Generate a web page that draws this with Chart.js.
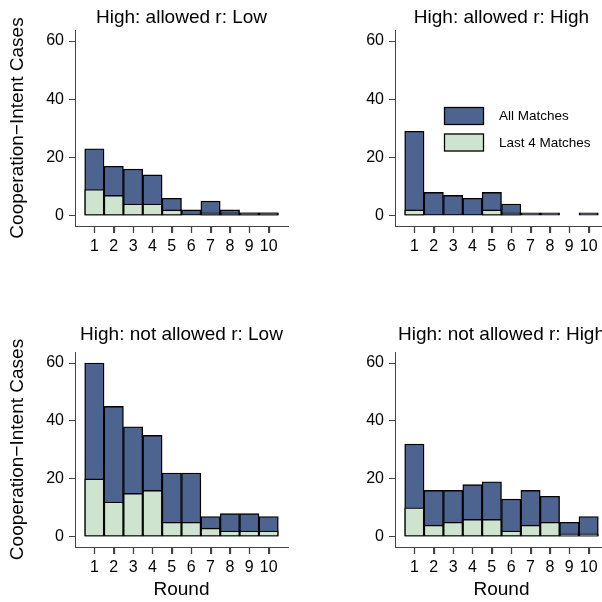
<!DOCTYPE html>
<html>
<head>
<meta charset="utf-8">
<script src="https://cdn.jsdelivr.net/npm/chart.js@4/dist/chart.umd.min.js"></script>
<style>
  html, body { margin: 0; padding: 0; background: #fff; overflow: hidden; width: 602px; height: 602px; }
  canvas { position: absolute; }
</style>
</head>
<body>
<canvas id="c1" width="320" height="260" style="left:0px;top:0px;width:320px;height:260px"></canvas>
<canvas id="c2" width="320" height="260" style="left:320px;top:0px;width:320px;height:260px"></canvas>
<canvas id="c3" width="320" height="302" style="left:0px;top:300px;width:320px;height:302px"></canvas>
<canvas id="c4" width="320" height="302" style="left:320px;top:300px;width:320px;height:302px"></canvas>
<script>
// ---- data ----
const rounds = [1, 2, 3, 4, 5, 6, 7, 8, 9, 10];
const seriesNames = ['All Matches', 'Last 4 Matches'];
const panelTitles = ['High: allowed r: Low', 'High: allowed r: High', 'High: not allowed r: Low', 'High: not allowed r: High'];
const yTickValues = [0, 20, 40, 60];
const yAxisTitle = 'Cooperation\u2212Intent Cases';
const xAxisTitle = 'Round';

const allAllowedLow     = [23, 17, 16, 14, 6, 2, 5, 2, 1, 1];
const last4AllowedLow   = [9, 7, 4, 4, 2, 0, 1, 1, 1, 1];
const allAllowedHigh    = [29, 8, 7, 6, 8, 4, 1, 1, 0, 1];
const last4AllowedHigh  = [2, 0, 0, 0, 2, 1, 0, 0, 0, 0];
const allNotAllowedLow  = [60, 45, 38, 35, 22, 22, 7, 8, 8, 7];
const last4NotAllowedLow= [20, 12, 15, 16, 5, 5, 3, 2, 2, 2];
const allNotAllowedHigh = [32, 16, 16, 18, 19, 13, 16, 14, 5, 7];
const last4NotAllowedHigh=[10, 4, 5, 6, 6, 2, 4, 5, 1, 1];

// ---- styles ----
const FONT = '"Liberation Sans", Arial, Helvetica, sans-serif';
const BLUE = '#4e6490';
const GREEN = '#cfe4cf';
const AXIS = '#444444';

Chart.defaults.font.family = FONT;
Chart.defaults.color = '#000';

function toPoints(vals) {
  return vals.map((v, i) => ({ x: rounds[i], y: v === 0 ? null : v }));
}

const yTitlePlugin = {
  id: 'yTitleText',
  afterDraw(chart, args, opts) {
    if (!opts || !opts.text) return;
    const ctx = chart.ctx, a = chart.chartArea;
    ctx.save();
    ctx.translate(opts.x, (a.top + a.bottom) / 2);
    ctx.rotate(-Math.PI / 2);
    ctx.font = opts.size + 'px ' + FONT;
    ctx.fillStyle = '#000';
    ctx.textAlign = 'center';
    ctx.textBaseline = 'middle';
    ctx.fillText(opts.text, 0, 0);
    ctx.restore();
  }
};

// short tick marks under the x axis at each round, positioned by the x scale
const xTickMarksPlugin = {
  id: 'xTickMarks',
  afterDraw(chart, args, opts) {
    const sx = chart.scales.x, ctx = chart.ctx;
    const y0 = Math.round(chart.chartArea.bottom);
    ctx.save();
    ctx.strokeStyle = AXIS;
    ctx.lineWidth = 1.3;
    rounds.forEach(v => {
      const px = Math.round(sx.getPixelForValue(v)) + 0.5;
      ctx.beginPath();
      ctx.moveTo(px, y0);
      ctx.lineTo(px, y0 + (opts.len || 7));
      ctx.stroke();
    });
    ctx.restore();
  }
};

const boxLegendPlugin = {
  id: 'boxLegend',
  afterDraw(chart, args, opts) {
    if (!opts || !opts.show) return;
    const ctx = chart.ctx;
    ctx.save();
    const items = [
      { label: seriesNames[0], color: BLUE, y: opts.y },
      { label: seriesNames[1], color: GREEN, y: opts.y + opts.gap }
    ];
    items.forEach(it => {
      ctx.fillStyle = it.color;
      ctx.fillRect(opts.x, it.y, opts.w, opts.h);
      ctx.strokeStyle = '#000';
      ctx.lineWidth = 1.3;
      ctx.strokeRect(opts.x + 0.5, it.y + 0.5, opts.w - 1, opts.h - 1);
      ctx.fillStyle = '#000';
      ctx.font = opts.size + 'px ' + FONT;
      ctx.textAlign = 'left';
      ctx.textBaseline = 'middle';
      ctx.fillText(it.label, opts.x + opts.w + opts.textGap, it.y + opts.h / 2 + 0.5);
    });
    ctx.restore();
  }
};

function makePanel(id, title, allVals, lastVals, cfg) {
  const isBottom = cfg.bottom;
  return new Chart(document.getElementById(id), {
    type: 'bar',
    data: {
      datasets: [
        { label: seriesNames[1], data: toPoints(lastVals), backgroundColor: GREEN,
          borderColor: '#000', borderWidth: 1.4, borderSkipped: false },
        { label: seriesNames[0], data: toPoints(allVals), backgroundColor: BLUE,
          borderColor: '#000', borderWidth: 1.4, borderSkipped: false }
      ]
    },
    options: {
      responsive: false,
      animation: false,
      devicePixelRatio: 1,
      layout: { padding: { left: 0, right: 32, top: 0, bottom: 0 } },
      datasets: { bar: { grouped: false, barPercentage: 1, categoryPercentage: 1 } },
      plugins: {
        legend: { display: false },
        tooltip: { enabled: false },
        title: {
          display: true, text: title, fullSize: false,
          font: { size: 19, weight: 'normal', lineHeight: 1.2 },
          color: '#000',
          padding: isBottom ? { top: 23.6, bottom: 5.6 } : { top: 6.6, bottom: 0.6 }
        },
        yTitleText: cfg.yTitle ? { text: yAxisTitle, x: 18, size: 19 } : {},
        xTickMarks: { len: 7 },
        boxLegend: cfg.legend ? { show: true, x: 124, y: 107, w: 40, h: 18, gap: 26.5, textGap: 15, size: 13.5 } : {}
      },
      scales: {
        x: {
          type: 'linear', min: 0, max: 11, offset: false,
          afterBuildTicks: s => { s.ticks = rounds.map(v => ({ value: v })); },
          afterFit: s => { s.height = isBottom ? 55 : 34; },
          grid: { display: true, offset: false, drawOnChartArea: false, drawTicks: true, tickLength: 7,
                  color: AXIS, tickColor: AXIS, lineWidth: 1, tickWidth: 1 },
          border: { display: true, color: AXIS, width: 1 },
          ticks: { autoSkip: false, maxRotation: 0, padding: 4, font: { size: 16 }, color: '#000',
                   callback: v => String(v) },
          title: isBottom ? { display: true, text: xAxisTitle, font: { size: 19, lineHeight: 1.2 }, color: '#000',
                   padding: { top: 0, bottom: 0.6 } } : { display: false }
        },
        y: {
          type: 'linear', min: -3.54, max: 63.8,
          afterBuildTicks: s => { s.ticks = yTickValues.map(v => ({ value: v })); },
          afterFit: s => { s.width = 75; },
          grid: { display: true, drawOnChartArea: false, drawTicks: true, tickLength: 6,
                  color: AXIS, tickColor: AXIS, lineWidth: 1, tickWidth: 1 },
          border: { display: true, color: AXIS, width: 1 },
          ticks: { padding: 5, font: { size: 16 }, color: '#000', callback: v => String(v) }
        }
      }
    },
    plugins: [yTitlePlugin, xTickMarksPlugin, boxLegendPlugin]
  });
}

makePanel('c1', panelTitles[0], allAllowedLow, last4AllowedLow, { bottom: false, yTitle: true, legend: false });
makePanel('c2', panelTitles[1], allAllowedHigh, last4AllowedHigh, { bottom: false, yTitle: false, legend: true });
makePanel('c3', panelTitles[2], allNotAllowedLow, last4NotAllowedLow, { bottom: true, yTitle: true, legend: false });
makePanel('c4', panelTitles[3], allNotAllowedHigh, last4NotAllowedHigh, { bottom: true, yTitle: false, legend: false });
</script>
</body>
</html>
